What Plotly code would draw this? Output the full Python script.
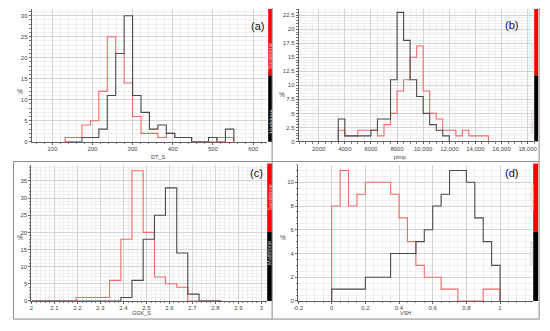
import plotly.graph_objects as go

# The page body has an 8px margin, so the figure is drawn 8px in from the
# top-left corner of the window; layout pixel positions below are given in
# window pixels and converted.
OX, OY = 8, 8
W, H = 542, 323

# ---------------- data ----------------
a_edges = [132, 153, 174, 195, 216, 237, 258, 279, 300, 321, 342, 363, 384, 405, 426, 447, 468, 489, 510, 531, 552]
a_sand = [1, 1, 4, 5, 12, 25, 21, 14, 6, 2, 2, 1, 2, 1, 1, 0, 0, 0, 1, 1]
a_mud = [0, 0, 1, 1, 3, 11, 21, 30, 11, 7, 3, 4, 2, 1, 1, 0, 0, 1, 0, 3]

b_edges = [3500, 4000, 4500, 5000, 5500, 6000, 6500, 7000, 7500, 8000, 8500, 9000, 9500,
           10000, 10500, 11000, 11500, 12000, 12500, 13000, 13500, 14000, 14500, 15000]
b_sand = [2, 1, 1, 2, 2, 2, 1, 3, 5, 9, 11, 15, 17, 9, 5, 4, 2, 2, 1, 2, 1, 1, 1]
b_mud = [4, 1, 1, 1, 1, 2, 4, 4, 11, 23, 18, 11, 8, 5, 3, 2, 1, 0, 0, 0, 0, 0, 0]

c_edges = [2.0, 2.049, 2.097, 2.146, 2.194, 2.243, 2.292, 2.340, 2.389, 2.437, 2.486,
           2.535, 2.583, 2.632, 2.680, 2.729, 2.778, 2.826]
c_sand = [0, 0, 0, 0, 1, 1, 1, 6, 18, 38, 20, 7, 5, 4, 0, 0, 0]
c_mud = [0, 0, 0, 0, 0, 0, 0, 0, 1, 6, 18, 25, 33, 14, 2, 0, 0]

d_edges = [0, 0.05, 0.1, 0.15, 0.2, 0.25, 0.3, 0.35, 0.4, 0.45, 0.5, 0.55, 0.6, 0.65,
           0.7, 0.75, 0.8, 0.85, 0.9, 0.95, 1.0]
d_sand = [8, 11, 8, 9, 10, 10, 10, 9, 7, 5, 3, 2, 2, 1, 1, 0, 0, 0, 1, 1]
d_mud = [1, 1, 1, 1, 2, 2, 2, 4, 4, 4, 5, 6, 8, 9, 11, 11, 10, 7, 5, 3]

a_xticks = [100, 200, 300, 400, 500, 600]
a_yticks = [0, 5, 10, 15, 20, 25, 30]
b_xticks = [2000, 4000, 6000, 8000, 10000, 12000, 14000, 16000, 18000]
b_xlabels = ["2000", "4000", "6000", "8000", "10,000", "12,000", "14,000", "16,000", "18,000"]
b_yticks = [0, 2.5, 5, 7.5, 10, 12.5, 15, 17.5, 20, 22.5]
b_ylabels = ["0", "2.5", "5", "7.5", "10", "12.5", "15", "17.5", "20", "22.5"]
c_xticks = [2, 2.1, 2.2, 2.3, 2.4, 2.5, 2.6, 2.7, 2.8, 2.9, 3]
c_xlabels = ["2", "2.1", "2.2", "2.3", "2.4", "2.5", "2.6", "2.7", "2.8", "2.9", "3"]
c_yticks = [0, 5, 10, 15, 20, 25, 30, 35]
d_xticks = [-0.2, 0, 0.2, 0.4, 0.6, 0.8, 1]
d_xlabels = ["-0.2", "0", "0.2", "0.4", "0.6", "0.8", "1"]
d_yticks = [0, 2, 4, 6, 8, 10]

RED = "#f46a6a"
BLK = "#4a4a4a"
FONT = "Liberation Sans, Arial, sans-serif"


def px(x):
    return (x - OX) / W


def py(y):
    return 1 - (y - OY) / H


def step(edges, counts):
    xs = [edges[0]] + list(edges[:-1]) + [edges[-1]]
    ys = [0] + list(counts) + [0]
    return xs, ys


panels = [
    dict(e=a_edges, s=a_sand, m=a_mud, box=(27, 266, 9, 143), xr=[49, 635], yr=[0, 31.6],
         xt=a_xticks, xl=[str(v) for v in a_xticks], yt=a_yticks, yl=[str(v) for v in a_yticks],
         xm=20, ym=1, lab="(a)", labpos=(256, 18), title="DT_S", tpos=(147, 158), pct=(10, 87),
         side=(267, 271, 9, 76, 143)),
    dict(e=b_edges, s=b_sand, m=b_mud, box=(298, 537, 9, 142.7), xr=[470, 18500], yr=[0, 23.6],
         xt=b_xticks, xl=b_xlabels, yt=b_yticks, yl=b_ylabels,
         xm=500, ym=0.5, lab="(b)", labpos=(523, 17), title="pimp", tpos=(408, 158), pct=(281, 90),
         side=(537, 541, 9, 76, 142.7)),
    dict(e=c_edges, s=c_sand, m=c_mud, box=(26.7, 265.7, 166, 303.7), xr=[2.0, 3.024], yr=[0, 39.8],
         xt=c_xticks, xl=c_xlabels, yt=c_yticks, yl=[str(v) for v in c_yticks],
         xm=0.02, ym=1, lab="(c)", labpos=(255, 175), title="GGK_S", tpos=(128, 320), pct=(10, 245),
         side=(266, 271, 165, 234, 303.7)),
    dict(e=d_edges, s=d_sand, m=d_mud, box=(297.3, 536, 166, 303.7), xr=[-0.2, 1.197], yr=[0, 11.5],
         xt=d_xticks, xl=d_xlabels, yt=d_yticks, yl=[str(v) for v in d_yticks],
         xm=0.05, ym=0.5, lab="(d)", labpos=(523, 175), title="VSH", tpos=(413, 320), pct=(282, 245),
         side=(536, 541, 165, 234, 303.7)),
]

fig = go.Figure()
layout = dict(width=W, height=H, margin=dict(l=0, r=0, t=0, b=0),
              paper_bgcolor="white", plot_bgcolor="white", showlegend=False,
              font=dict(family=FONT, size=6, color="#333"))
annotations = []
shapes = []

for i, p in enumerate(panels, start=1):
    xa = "x" if i == 1 else f"x{i}"
    ya = "y" if i == 1 else f"y{i}"
    xkey = "xaxis" if i == 1 else f"xaxis{i}"
    ykey = "yaxis" if i == 1 else f"yaxis{i}"
    x0, x1, yt, yb = p["box"]
    axcommon = dict(showline=True, linecolor="#606060", linewidth=1, ticks="outside",
                    ticklen=2, tickcolor="#606060", tickfont=dict(size=6, color="#444"),
                    showgrid=True, gridcolor="#d4d4d4", gridwidth=1, zeroline=False)
    layout[xkey] = dict(domain=[px(x0), px(x1)], range=p["xr"], anchor=ya,
                        tickvals=p["xt"], ticktext=p["xl"], ticklabelstandoff=-1,
                        minor=dict(dtick=p["xm"], showgrid=True, gridcolor="#efefef",
                                   ticks="outside", ticklen=1.5, tickcolor="#808080"),
                        **axcommon)
    layout[ykey] = dict(domain=[py(yb), py(yt)], range=p["yr"], anchor=xa,
                        tickvals=p["yt"], ticktext=p["yl"],
                        minor=dict(dtick=p["ym"], showgrid=True, gridcolor="#efefef",
                                   ticks="outside", ticklen=1.5, tickcolor="#808080"),
                        **axcommon)
    xs, ys = step(p["e"], p["s"])
    fig.add_trace(go.Scatter(x=xs, y=ys, mode="lines", line=dict(color=RED, width=1.1, shape="hv"),
                             xaxis=xa, yaxis=ya, hoverinfo="skip"))
    xs, ys = step(p["e"], p["m"])
    fig.add_trace(go.Scatter(x=xs, y=ys, mode="lines", line=dict(color=BLK, width=1.1, shape="hv"),
                             xaxis=xa, yaxis=ya, hoverinfo="skip"))

    # side bar
    sx0, sx1, sy0, sym, sy1 = p["side"]
    shapes.append(dict(type="rect", xref="paper", yref="paper", x0=px(sx0), x1=px(sx1),
                       y0=py(sym), y1=py(sy0), fillcolor="#ff0000", line=dict(width=0)))
    shapes.append(dict(type="rect", xref="paper", yref="paper", x0=px(sx0), x1=px(sx1),
                       y0=py(sy1), y1=py(sym), fillcolor="#000000", line=dict(width=0)))
    annotations.append(dict(text="Sandstone", x=px((sx0 + sx1) / 2), y=py((sy0 + sym) / 2),
                            xref="paper", yref="paper", showarrow=False, textangle=-90,
                            borderpad=0, font=dict(size=5.5, color="#ffd0d0", family=FONT)))
    annotations.append(dict(text="Mudstone", x=px((sx0 + sx1) / 2), y=py((sym + sy1) / 2),
                            xref="paper", yref="paper", showarrow=False, textangle=-90,
                            borderpad=0, font=dict(size=5.5, color="#d0d0d0", family=FONT)))
    annotations.append(dict(text=p["lab"], x=px(p["labpos"][0]), y=py(p["labpos"][1]),
                            xref="paper", yref="paper", showarrow=False,
                            font=dict(size=11, color="#111", family=FONT)))
    annotations.append(dict(text=p["title"], x=px(p["tpos"][0]), y=py(p["tpos"][1]),
                            xref="paper", yref="paper", showarrow=False, borderpad=0,
                            font=dict(size=5.5, color="#444", family=FONT)))
    annotations.append(dict(text="%", x=px(p["pct"][0]), y=py(p["pct"][1]),
                            xref="paper", yref="paper", showarrow=False,
                            font=dict(size=6.5, color="#444", family=FONT)))

# panel frame lines
frame = dict(color="#8a8a8a", width=1)
for (lx0, ly0, lx1, ly1) in [(271, 8, 271, 322), (8.5, 163, 542, 163), (8.5, 163, 8.5, 322),
                             (8.5, 322, 542, 322), (542, 8, 542, 322)]:
    shapes.append(dict(type="line", xref="paper", yref="paper", x0=px(lx0), y0=py(ly0),
                       x1=px(lx1), y1=py(ly1), line=frame))

layout["annotations"] = annotations
layout["shapes"] = shapes
fig.update_layout(**layout)
fig.write_html("out.html")
